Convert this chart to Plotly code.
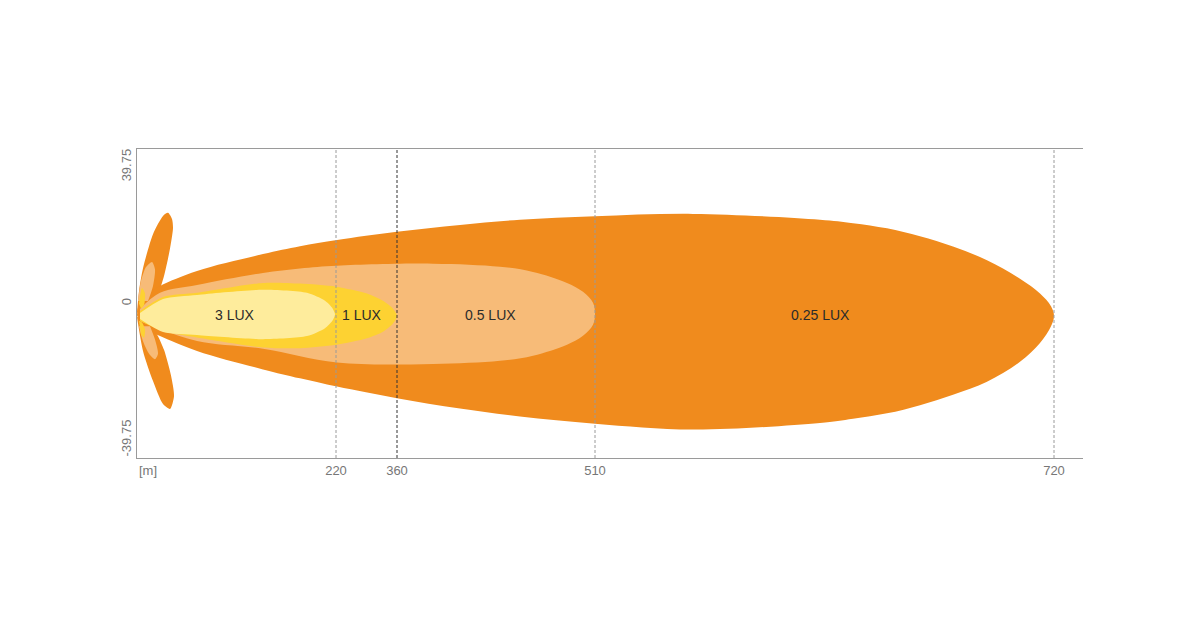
import plotly.graph_objects as go

# schematic distance axis: tick label text and where each sits on the axis (axis units)
reach_labels = ["220", "360", "510", "720"]
reach_axis_pos = [199, 260, 458, 917]
y_ticks = [39.75, 0, -39.75]

# isolux outlines (x in axis units, y in metres)
lux_025_x = [0, 3, 13, 23, 60, 126, 163, 200, 260, 323, 383, 458, 556, 683, 716, 750, 783, 816, 850, 883, 903, 914, 917,
             914, 903, 883, 850, 816, 783, 750, 716, 683, 556, 458, 383, 323, 260, 200, 163, 126, 60, 23, 13, 3]
lux_025_y = [-3.4, 0.7, 3.1, 5.1, 9.5, 14.4, 16.7, 18.5, 20.9, 22.9, 24.4, 25.4, 26.1, 24.4, 23.4, 21.9, 19.6, 16.6, 12.6, 7.2, 2.9, -0.8, -3.6,
             -6.6, -11.5, -17.0, -22.8, -26.6, -29.6, -32.0, -33.6, -34.8, -36.7, -35.0, -32.9, -30.6, -27.6, -24.2, -21.8, -19.2, -13.8, -9.5, -8.0, -5.7]

lux_05_x = [3, 23, 60, 126, 163, 200, 296, 363, 396, 430, 446, 456, 458, 456, 446, 430, 396, 363, 296, 200, 126, 60, 23, 3]
lux_05_y = [-1.6, 3.1, 5.4, 8.9, 10.2, 11.0, 11.6, 10.7, 9.2, 6.0, 3.4, 0.2, -3.0, -6.2, -9.4, -12.0, -15.2, -16.7, -17.6, -17.2, -13.2, -10.9, -7.4, -5.1]

lux_1_x = [3, 26, 60, 126, 163, 199, 230, 246, 256, 260, 256, 246, 230, 199, 163, 126, 60, 26, 3]
lux_1_y = [-2.2, 1.9, 3.1, 6.0, 5.8, 4.9, 2.9, 0.8, -1.5, -3.6, -5.8, -8.2, -10.1, -12.0, -13.0, -12.8, -9.9, -8.0, -5.1]

lux_3_x = [3, 26, 60, 126, 170, 188, 195, 198, 195, 188, 170, 126, 60, 26, 3]
lux_3_y = [-2.8, 1.3, 2.5, 4.0, 3.1, 0.8, -1.2, -3.2, -5.2, -7.2, -9.5, -10.4, -9.2, -8.3, -4.5]

# side lobes near the lamp
lobe_up_x = [0, 2, 6, 16, 26, 31, 35, 36, 33, 27, 21, 8]
lobe_up_y = [-2.8, 3.6, 10.3, 20.2, 25.5, 26.4, 24.6, 22.0, 16.0, 8.0, 3.0, -0.7]
lobe_lo_x = [0, 6, 16, 26, 33, 37, 34, 27, 20, 8]
lobe_lo_y = [-3.9, -13.8, -22.6, -29.3, -30.7, -27.0, -21.0, -13.5, -9.0, -4.5]

inner_up_x = [1, 4, 9, 15, 18, 16, 11]
inner_up_y = [0.7, 6.6, 10.6, 12.1, 10.0, 5.1, 0.7]
inner_lo_x = [2, 6, 12, 18, 21, 18, 13]
inner_lo_y = [-6.6, -11.0, -14.6, -16.2, -14.6, -10.5, -6.6]

spot_up_x = [2, 5, 8, 7, 4]
spot_up_y = [0.0, 4.5, 3.0, -0.5, -1.5]
spot_lo_x = [2, 5, 8, 7, 4]
spot_lo_y = [-5.0, -5.5, -7.5, -10.0, -9.0]

lux_labels = ["3 LUX", "1 LUX", "0.5 LUX", "0.25 LUX"]
lux_label_x = [98, 225, 353, 683]
beam_axis_y = -3.4

ORANGE = "#F08B1D"
LIGHT = "#F7BB78"
YELLOW = "#FDD232"
PALE = "#FEEC9C"

fig = go.Figure()


def add_zone(x, y, color, smooth=0.7):
    fig.add_trace(go.Scatter(x=x, y=y, mode="lines", fill="toself", fillcolor=color,
                             line=dict(width=0, shape="spline", smoothing=smooth, color=color),
                             hoverinfo="skip", showlegend=False))


add_zone(lobe_up_x, lobe_up_y, ORANGE)
add_zone(lobe_lo_x, lobe_lo_y, ORANGE)
add_zone(lux_025_x, lux_025_y, ORANGE, 1.0)
add_zone(inner_up_x, inner_up_y, LIGHT)
add_zone(inner_lo_x, inner_lo_y, LIGHT)
add_zone(lux_05_x, lux_05_y, LIGHT, 1.0)
add_zone(spot_up_x, spot_up_y, YELLOW)
add_zone(spot_lo_x, spot_lo_y, YELLOW)
add_zone(lux_1_x, lux_1_y, YELLOW)
add_zone(lux_3_x, lux_3_y, PALE)

# dashed reach markers
for pos, lab in zip(reach_axis_pos, reach_labels):
    fig.add_shape(type="line", x0=pos, x1=pos, y0=0, y1=1, xref="x", yref="paper",
                  line=dict(color="#333333" if lab == "360" else "#9a9a9a", width=1, dash="3px,2px"),
                  layer="above")

for lab, lx in zip(lux_labels, lux_label_x):
    fig.add_annotation(x=lx, y=beam_axis_y, text=lab, showarrow=False,
                       font=dict(size=14, color="#2b2b2b"))

fig.add_annotation(x=0, y=0, xref="x", yref="paper", text="[m]", showarrow=False,
                   xanchor="left", yanchor="top", yshift=-3, font=dict(size=13, color="#777777"))

fig.update_layout(
    width=1184, height=614,
    margin=dict(l=129, r=109, t=141, b=164),
    plot_bgcolor="white", paper_bgcolor="white",
    font=dict(family="Liberation Sans, Arial, sans-serif", size=13, color="#777777"),
    showlegend=False,
)
fig.update_xaxes(range=[0, 946], tickvals=reach_axis_pos, ticktext=reach_labels,
                 showgrid=False, zeroline=False, showline=True, mirror=True,
                 linecolor="#9a9a9a", linewidth=1, ticks="", fixedrange=True)
fig.update_yaxes(range=[-45, 45], tickvals=y_ticks, ticktext=[str(v) for v in y_ticks],
                 tickangle=-90, showgrid=False, zeroline=False, showline=True,
                 linecolor="#9a9a9a", linewidth=1, ticks="", fixedrange=True)

fig.write_html("out.html")
